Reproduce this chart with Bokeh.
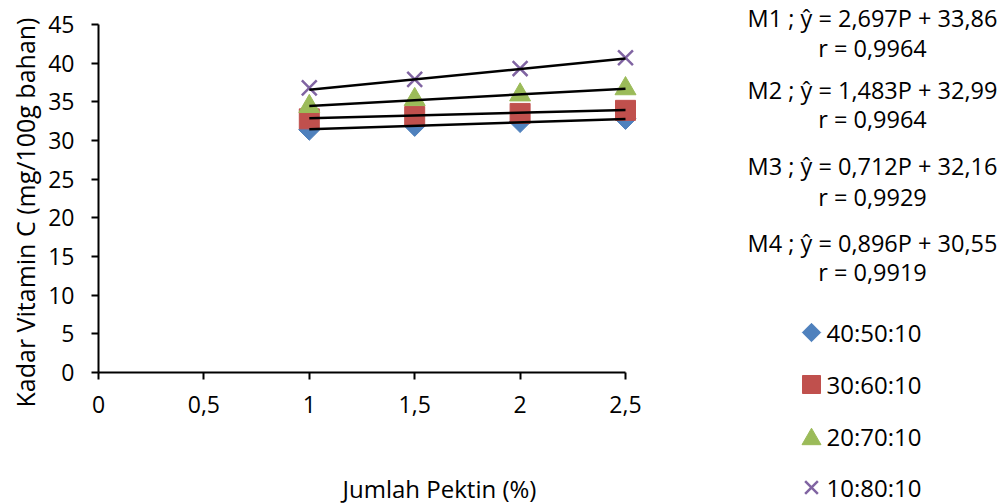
from bokeh.plotting import figure
from bokeh.models import Range1d, FixedTicker, Label, ColumnDataSource, LinearAxis
from bokeh.embed import file_html
from bokeh.resources import INLINE
from bokeh.core.properties import value
import numpy as np

# ---------------- data ----------------
pektin = [1.0, 1.5, 2.0, 2.5]
series_names = ["40:50:10", "30:60:10", "20:70:10", "10:80:10"]
vit_40_50_10 = [31.4, 31.9, 32.4, 32.8]
vit_30_60_10 = [32.8, 33.1, 33.5, 33.9]
vit_20_70_10 = [34.4, 35.3, 35.9, 36.7]
vit_10_80_10 = [36.8, 37.9, 39.3, 40.7]

model_names = ["M1", "M2", "M3", "M4"]
slopes = [2.697, 1.483, 0.712, 0.896]
intercepts = [33.86, 32.99, 32.16, 30.55]
r_values = [0.9964, 0.9964, 0.9929, 0.9919]

x_ticks = [0, 0.5, 1, 1.5, 2, 2.5]
x_tick_labels = ["0", "0,5", "1", "1,5", "2", "2,5"]
y_ticks = [0, 5, 10, 15, 20, 25, 30, 35, 40, 45]

x_title = "Jumlah Pektin (%)"
y_title = "Kadar Vitamin C (mg/100g bahan)"

# ---------------- layout / style ----------------
FONT = "Open Sans"
TXT = "#000000"
colors = ["#4F81BD", "#C0504D", "#9BBB59", "#8064A2"]
markers = ["square", "square", "triangle", "x"]
angles = [np.pi / 4, 0, 0, 0]
plot_sizes = [15, 20, 21, 21]
legend_sizes = [13, 18, 19, 18]

W, H = 1000, 504
X0_PX, X_PX = 98.0, 210.8      # pixel of x=0, pixels per x unit
Y0_PX, Y_PX = 372.0, 348.0 / 45  # pixel of y=0, pixels per y unit


def dx(px):
    return (px - X0_PX) / X_PX


def dy(py):
    return (Y0_PX - py) / Y_PX


values = [vit_40_50_10, vit_30_60_10, vit_20_70_10, vit_10_80_10]

p = figure(width=W, height=H, output_backend="svg", toolbar_location=None,
           x_range=Range1d(dx(0), dx(W)), y_range=Range1d(dy(H), dy(0)),
           x_axis_location=None, y_axis_location=None, min_border=0)
p.grid.visible = False
p.outline_line_color = None

for i in range(4):
    src = ColumnDataSource(dict(x=pektin, y=values[i]))
    if markers[i] == "x":
        p.scatter("x", "y", source=src, marker="x", size=plot_sizes[i],
                  line_color=colors[i], line_width=2.5)
    else:
        p.scatter("x", "y", source=src, marker=markers[i], size=plot_sizes[i],
                  angle=angles[i], fill_color=colors[i], line_color=colors[i])

# trend lines from the regression equations
for k in range(4):
    xs = [pektin[0], pektin[-1]]
    ys = [slopes[k] * xv + intercepts[k] for xv in xs]
    p.line(xs, ys, line_color="black", line_width=2.5)

xa = LinearAxis(fixed_location=0, bounds=(0, 2.5), ticker=FixedTicker(ticks=x_ticks))
xa.major_label_overrides = {t: l for t, l in zip(x_ticks, x_tick_labels)}
ya = LinearAxis(fixed_location=0, bounds=(0, 45), ticker=FixedTicker(ticks=y_ticks))
for ax in (xa, ya):
    ax.axis_line_color = "black"
    ax.axis_line_width = 2
    ax.major_tick_line_color = "black"
    ax.major_tick_line_width = 2
    ax.major_tick_in = 0
    ax.major_tick_out = 7
    ax.minor_tick_line_color = None
    ax.major_label_text_font = FONT
    ax.major_label_text_font_size = "23px"
    ax.major_label_text_color = TXT
xa.major_label_standoff = 16
ya.major_label_standoff = 17
p.add_layout(xa, "below")
p.add_layout(ya, "left")

# axis titles
p.add_layout(Label(x=dx(439), y=dy(488), text=x_title, text_font=FONT,
                   text_font_size="24px", text_color=TXT,
                   text_align="center", text_baseline="middle"))
p.add_layout(Label(x=dx(24), y=dy(212), text=y_title, text_font=FONT,
                   text_font_size="25px", text_color=TXT, angle=np.pi / 2,
                   text_align="center", text_baseline="middle"))

# regression equations (right side)
eq_px_y = [17, 89, 165, 242]
r_px_y = [47, 118, 196, 271]
eq_text = [f"{model_names[k]} ; ŷ = {slopes[k]:.3f}P + {intercepts[k]:.2f}".replace(".", ",")
           for k in range(4)]
r_text = [f"r = {r_values[k]:.4f}".replace(".", ",") for k in range(4)]
p.text(x=[dx(872)] * 4, y=[dy(v) for v in eq_px_y], text=eq_text,
       text_font=value(FONT), text_font_size="23.5px", text_color=TXT,
       text_align="center", text_baseline="middle")
p.text(x=[dx(872)] * 4, y=[dy(v) for v in r_px_y], text=r_text,
       text_font=value(FONT), text_font_size="23.5px", text_color=TXT,
       text_align="center", text_baseline="middle")

# legend (markers + labels)
leg_px_y = [332, 384, 436, 487]
leg_marker_dy = [0, 0, 2.7, 0]   # triangle is drawn around its centroid
for i in range(4):
    lx, ly = [dx(811)], [dy(leg_px_y[i] + leg_marker_dy[i])]
    if markers[i] == "x":
        p.scatter(lx, ly, marker="x", size=legend_sizes[i],
                  line_color=colors[i], line_width=2.5)
    else:
        p.scatter(lx, ly, marker=markers[i], size=legend_sizes[i], angle=angles[i],
                  fill_color=colors[i], line_color=colors[i])
p.text(x=[dx(826)] * 4, y=[dy(v) for v in leg_px_y], text=series_names,
       text_font=value(FONT), text_font_size="24px", text_color=TXT,
       text_align="left", text_baseline="middle")

open("out.html", "w").write(file_html(p, INLINE))
